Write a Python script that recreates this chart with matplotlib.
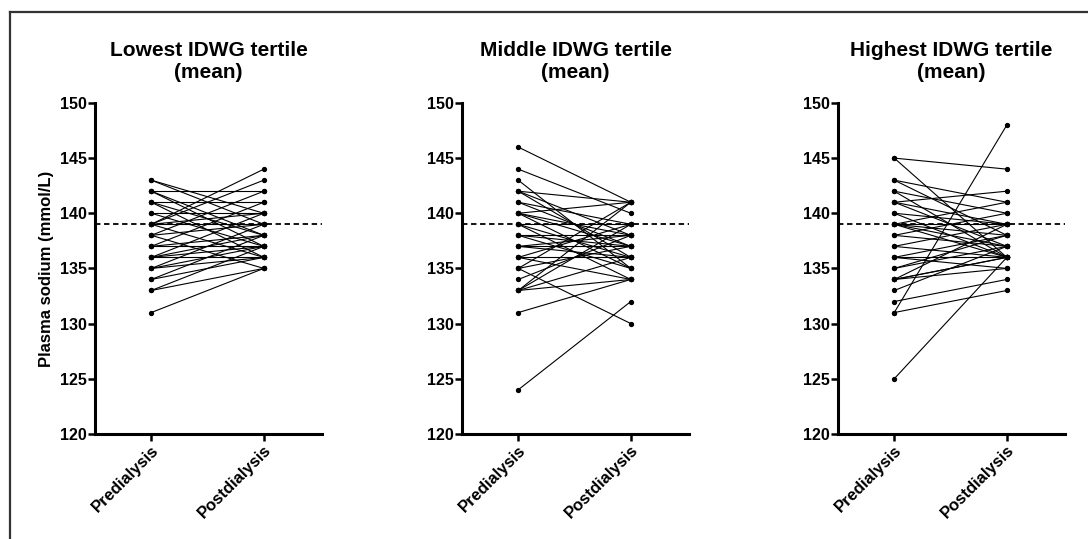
#!/usr/bin/env python3
"""Plasma sodium pre/post dialysis by IDWG tertile (paired lines)."""

import matplotlib
matplotlib.use("Agg")
import matplotlib.pyplot as plt
from matplotlib.lines import Line2D

plt.rcParams["font.family"] = ["Liberation Sans", "DejaVu Sans"]

titles = ["Lowest IDWG tertile\n(mean)",
          "Middle IDWG tertile\n(mean)",
          "Highest IDWG tertile\n(mean)"]
xlabels = ["Predialysis", "Postdialysis"]
reference_na = 139

# (predialysis, postdialysis) pairs
lowest_pre = [143, 143, 142, 142, 142, 141, 141, 141, 140, 140, 139, 139, 139,
              139, 139, 138, 138, 138, 137, 137, 137, 136, 136, 136, 136, 135,
              135, 135, 134, 134, 133, 133, 131]
lowest_post = [139, 140, 142, 138, 137, 141, 138, 136, 140, 137, 144, 143, 139,
               136, 140, 142, 139, 135, 141, 138, 137, 140, 138, 136, 137, 139,
               137, 136, 138, 136, 137, 135, 135]

middle_pre = [146, 144, 143, 142, 142, 142, 141, 141, 140, 140, 140, 140, 139,
              139, 139, 138, 138, 138, 137, 137, 137, 136, 136, 136, 135, 135,
              135, 134, 133, 133, 133, 133, 131, 124]
middle_post = [141, 140, 135, 141, 138, 136, 139, 137, 141, 138, 137, 135, 139,
               136, 134, 138, 137, 135, 138, 137, 136, 139, 136, 134, 141, 130,
               137, 138, 141, 139, 134, 136, 134, 132]

highest_pre = [145, 145, 143, 143, 142, 142, 141, 141, 141, 140, 140, 139, 139,
               139, 139, 139, 138, 138, 137, 137, 136, 136, 136, 135, 135, 134,
               134, 134, 134, 133, 132, 131, 131, 125]
highest_post = [144, 136, 141, 138, 140, 136, 142, 139, 137, 139, 136, 141, 139,
                138, 137, 136, 140, 137, 139, 136, 138, 136, 135, 138, 137, 139,
                136, 136, 135, 137, 134, 148, 133, 136]

panels = [(lowest_pre, lowest_post),
          (middle_pre, middle_post),
          (highest_pre, highest_post)]

fig = plt.figure(figsize=(10.88, 5.39), dpi=100)

# partial frame (top + left), like the cropped figure border
fig.add_artist(Line2D([0.0095, 1.0], [0.978, 0.978], transform=fig.transFigure,
                      color="#333333", linewidth=1.6))
fig.add_artist(Line2D([0.0095, 0.0095], [0.0, 0.978], transform=fig.transFigure,
                      color="#333333", linewidth=1.6))

lefts = [0.0873, 0.4246, 0.7702]
for i, (pre, post) in enumerate(panels):
    ax = fig.add_axes([lefts[i], 0.195, 0.209, 0.614])
    for a, b in zip(pre, post):
        ax.plot([1, 2], [a, b], color="black", linewidth=0.8,
                marker="o", markersize=2.8, zorder=3)
    ax.axhline(reference_na, color="black", linewidth=1.3,
               linestyle=(0, (3, 2)), zorder=2)

    ax.set_xlim(0.5, 2.52)
    ax.set_ylim(120, 150)
    ax.set_yticks(range(120, 151, 5))
    ax.set_xticks([1, 2])
    ax.set_xticklabels(xlabels, rotation=45, ha="right", va="top",
                       rotation_mode="anchor", fontsize=12, fontweight="bold")
    for lab in ax.get_yticklabels():
        lab.set_fontsize(11.5)
        lab.set_fontweight("bold")

    for side in ("top", "right"):
        ax.spines[side].set_visible(False)
    for side in ("left", "bottom"):
        ax.spines[side].set_linewidth(2.2)
    ax.tick_params(width=1.8, length=5, pad=1)

    ax.set_title(titles[i], fontsize=15, fontweight="bold", pad=18,
                 linespacing=1.2)
    if i == 0:
        ax.set_ylabel("Plasma sodium (mmol/L)", fontsize=12, fontweight="bold",
                      labelpad=4)

fig.savefig("out.png", dpi=100)
